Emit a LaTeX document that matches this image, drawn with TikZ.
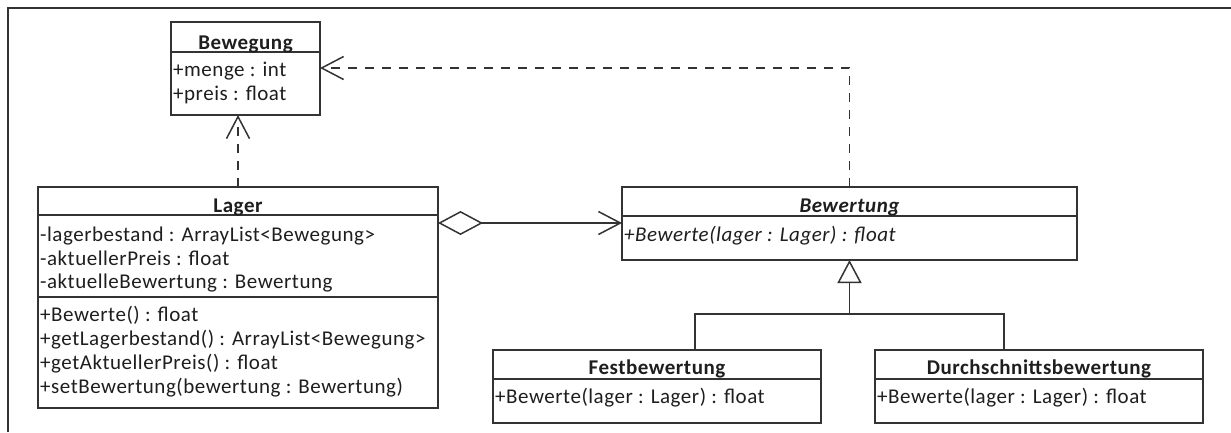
\documentclass[tikz,border=0pt]{standalone}
\usepackage{fontspec}
\setmainfont{Carlito}[LetterSpace=2.5]
\usetikzlibrary{arrows.meta}
\definecolor{linec}{HTML}{333333}
\definecolor{textc}{HTML}{1E1E1E}
\begin{document}
\begin{tikzpicture}[x=1pt,y=-1pt,
  classbox/.style={draw=linec, line width=1.5pt, inner sep=0pt, outer sep=0pt, anchor=north west, rectangle},
  divider/.style={draw=linec, line width=1.5pt},
  txt/.style={inner sep=0pt, anchor=base west, font=\fontsize{21}{24}\selectfont, text=textc},
  ttl/.style={inner sep=0pt, anchor=base, font=\fontsize{21}{24}\selectfont\bfseries, text=textc},
  conn/.style={draw=linec, line width=1.5pt},
  dep/.style={conn, dash pattern=on 9pt off 8pt, -{Straight Barb[length=22pt,width=23pt]}},
  agg/.style={conn, {Diamond[open,length=45pt,width=24pt]}-{Straight Barb[length=22pt,width=23pt]}},
  gen/.style={conn, -{Triangle[open,length=23pt,width=24pt]}},
  framel/.style={draw=linec, line width=1.8pt}]
\useasboundingbox (0,0) rectangle (1231,432);
\draw[framel] (8,432) -- (8,8) -- (1231,8);

% Bewegung
\node[classbox, minimum width=149pt, minimum height=93pt] (bew) at (171,22) {};
\draw[divider] (bew.west |- 0,52) -- (bew.east |- 0,52);
\node[ttl] (bewT) at (245.5,49) {Bewegung};
\node[txt] (bewA1) at (173,76) {+menge : int};
\node[txt] (bewA2) at (173,100) {+preis : float};

% Lager
\node[classbox, minimum width=400pt, minimum height=221pt] (lager) at (38,187) {};
\draw[divider] (lager.west |- 0,215) -- (lager.east |- 0,215);
\draw[divider] (lager.west |- 0,297) -- (lager.east |- 0,297);
\node[ttl] (lagT) at (238,212) {Lager};
\node[txt] (lagA1) at (40,241.5) {-lagerbestand : ArrayList<Bewegung>};
\node[txt] (lagA2) at (40,265) {-aktuellerPreis : float};
\node[txt] (lagA3) at (40,288.5) {-aktuelleBewertung : Bewertung};
\node[txt] (lagM1) at (40,321) {+Bewerte() : float};
\node[txt] (lagM2) at (40,345) {+getLagerbestand() : ArrayList<Bewegung>};
\node[txt] (lagM3) at (40,369) {+getAktuellerPreis() : float};
\node[txt] (lagM4) at (40,393) {+setBewertung(bewertung : Bewertung)};

% Bewertung
\node[classbox, minimum width=455pt, minimum height=73pt] (bewt) at (622,187) {};
\draw[divider] (bewt.west |- 0,216) -- (bewt.east |- 0,216);
\node[ttl, font=\fontsize{21}{24}\selectfont\bfseries\itshape] (bewtT) at (849.5,212) {Bewertung};
\node[txt, font=\fontsize{21}{24}\selectfont\itshape] (bewtM) at (624,241) {+Bewerte(lager : Lager) : float};

% Festbewertung
\node[classbox, minimum width=328pt, minimum height=73pt] (fest) at (493,350) {};
\draw[divider] (fest.west |- 0,379) -- (fest.east |- 0,379);
\node[ttl] (festT) at (657,374) {Festbewertung};
\node[txt] (festM) at (495,403) {+Bewerte(lager : Lager) : float};

% Durchschnittsbewertung
\node[classbox, minimum width=328pt, minimum height=73pt] (durch) at (875,350) {};
\draw[divider] (durch.west |- 0,379) -- (durch.east |- 0,379);
\node[ttl] (durchT) at (1039,374) {Durchschnittsbewertung};
\node[txt] (durchM) at (877,403) {+Bewerte(lager : Lager) : float};

% connectors
\draw[dep] (lager.north) -- (lager.north |- bew.south);
\coordinate (bend) at (849.5,68);
\draw[dep] (bewt.north) -- (bend) -- (bew.east |- bend);
\draw[agg] (lager.east |- 0,223) -- (bewt.west |- 0,223);
\coordinate (jn) at (849.5,314);
\coordinate (fd) at (695,314);
\coordinate (dd) at (1004,314);
\draw[conn] (fest.north -| fd) -- (fd) -- (dd) -- (durch.north -| dd);
\draw[gen] (jn) -- (bewt.south);
\end{tikzpicture}
\end{document}
